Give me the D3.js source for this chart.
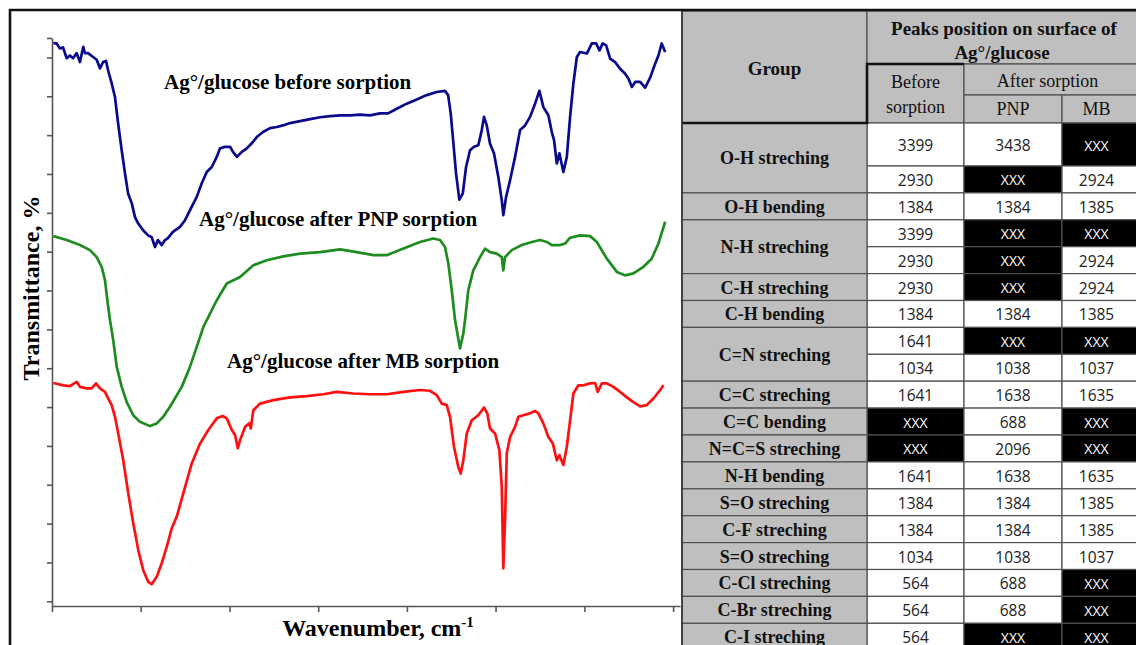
<!DOCTYPE html>
<html>
<head>
<meta charset="utf-8">
<script src="https://cdn.jsdelivr.net/npm/d3@7"></script>
<style>
  body { margin: 0; background: #fff; }
  svg { display: block; }
</style>
</head>
<body>
<svg id="fig" width="1136" height="645"></svg>
<script>
// spectra (wavenumber cm-1, transmittance in tick units)
const beforeWn = [3992,3973,3954,3936,3915,3896,3878,3857,3838,3819,3809,3791,3762,3741,3722,3704,3687,3675,3654,3635,3617,3596,3577,3559,3538,3519,3501,3472,3443,3422,3403,3386,3364,3345,3328,3299,3258,3229,3200,3161,3132,3103,3074,3045,3026,2997,2968,2951,2928,2900,2871,2842,2813,2777,2736,2697,2661,2620,2562,2504,2446,2388,2330,2272,2214,2157,2099,2052,2002,1944,1886,1828,1770,1722,1704,1689,1675,1658,1639,1619,1600,1577,1554,1529,1509,1496,1480,1461,1438,1413,1393,1384,1368,1345,1316,1287,1258,1229,1200,1175,1152,1123,1103,1090,1074,1059,1036,1016,997,978,958,939,900,871,846,827,808,788,765,736,707,678,659,639,620,591,562,533,504,485,466,446];
const beforeT = [143.7,143.6,142.3,142.6,139.8,140.5,139.8,141.1,138.8,142.7,141.1,141.1,140.1,139.4,137.2,138.8,139.1,136.7,133.3,129.8,123.1,116.1,110.2,105.0,102.5,98.9,97.3,95.5,94.2,93.7,91.2,93.0,91.7,93.0,93.5,95.1,96.4,98.1,100.7,104.1,107.6,110.5,111.8,114.4,116.6,117.0,117.0,115.7,114.4,115.7,116.6,117.9,119.5,120.8,121.8,122.1,122.5,123.1,123.6,124.1,124.6,124.9,125.1,125.1,125.3,125.1,125.6,125.6,126.8,128.1,129.2,130.3,131.1,131.4,130.3,125.6,118.7,110.1,103.4,105.0,111.8,116.1,117.0,117.4,121.3,124.7,122.5,117.8,115.3,109.2,103.2,99.4,104.1,108.4,114.4,121.3,122.5,124.7,128.1,131.4,127.2,125.1,120.8,118.7,112.7,115.3,110.5,114.4,124.7,133.3,140.1,141.4,141.0,143.6,143.6,141.8,143.6,143.1,139.7,138.8,137.1,135.8,134.6,132.4,133.7,133.7,132.2,134.8,138.4,140.5,143.6,141.4];

const pnpWn = [3992,3915,3838,3780,3741,3712,3693,3679,3664,3645,3625,3596,3567,3529,3490,3432,3393,3355,3316,3248,3200,3161,3123,3045,2987,2910,2833,2755,2659,2562,2446,2330,2234,2137,2060,1963,1867,1790,1751,1722,1703,1683,1664,1635,1616,1606,1587,1558,1519,1490,1461,1422,1393,1384,1374,1335,1277,1219,1171,1132,1103,1055,1026,997,939,881,842,784,726,678,630,572,524,485,446];
const pnpT = [94.0,93.0,91.7,90.4,88.6,86.1,82.7,77.5,72.4,67.2,60.4,55.2,51.3,47.9,46.2,45.1,45.8,47.5,50.1,55.2,60.4,65.5,70.6,77.5,81.8,83.5,86.5,87.8,88.8,89.5,89.9,90.6,89.9,89.1,89.1,90.8,92.5,93.4,93.0,91.2,87.0,80.1,72.4,65.1,68.9,72.4,80.1,85.2,88.6,90.8,89.9,89.5,88.6,85.2,88.6,90.4,91.7,92.5,93.0,92.5,91.7,91.7,92.1,93.6,94.2,94.0,92.5,88.2,84.8,83.9,84.4,86.1,88.2,92.1,97.7];

const mbWn = [3992,3934,3896,3857,3838,3799,3770,3745,3722,3693,3674,3654,3635,3616,3587,3558,3529,3500,3471,3442,3422,3393,3364,3335,3306,3277,3239,3190,3142,3094,3045,3010,2987,2958,2939,2923,2910,2881,2856,2848,2833,2794,2717,2620,2524,2427,2350,2253,2157,2060,1963,1867,1809,1770,1741,1712,1693,1670,1645,1631,1616,1596,1567,1529,1496,1477,1461,1432,1407,1393,1384,1374,1364,1345,1316,1297,1268,1229,1200,1181,1152,1123,1097,1074,1059,1036,1016,997,978,949,920,881,852,837,813,784,746,707,668,630,591,553,514,475,456];
const mbT = [56.2,55.6,55.4,56.5,55.2,54.8,54.8,56.1,54.8,53.9,52.2,50.5,47.5,43.2,36.3,27.8,20.1,13.2,8.0,5.0,4.4,6.3,9.8,14.0,18.8,21.8,27.8,35.5,40.6,44.1,47.1,47.7,47.1,44.1,42.8,39.4,41.5,44.9,45.8,44.5,49.2,50.9,51.8,52.5,52.8,53.3,53.9,53.5,53.3,53.3,53.9,54.4,54.2,53.1,50.9,50.5,47.5,39.8,34.6,32.9,36.3,43.2,46.6,47.9,49.9,48.4,44.5,43.2,38.9,29.5,8.5,20.9,38.1,42.3,44.9,47.5,47.9,48.4,49.0,48.4,45.8,42.3,40.6,36.3,37.6,35.1,39.8,46.6,53.5,55.6,55.6,56.1,56.2,53.9,56.1,56.1,55.2,53.9,52.5,51.3,50.2,50.5,52.2,54.4,55.6];

const xTicks = [4000, 3486, 2971, 2457, 1943, 1429, 914, 400];
const yTicks = [0,10,20,30,40,50,60,70,80,90,100,110,120,130,140,145];

// table
const groups = ["O-H streching","O-H bending","N-H streching","C-H streching","C-H bending","C=N streching","C=C streching","C=C bending","N=C=S streching","N-H bending","S=O streching","C-F streching","S=O streching","C-Cl streching","C-Br streching","C-I streching"];
const groupRows = [2,1,2,1,1,2,1,1,1,1,1,1,1,1,1,1];
const colBefore = [3399,2930,1384,3399,2930,2930,1384,1641,1034,1641,null,null,1641,1384,1384,1034,564,564,564];
const colPNP = [3438,null,1384,null,null,null,1384,null,1038,1638,688,2096,1638,1384,1384,1038,688,688,null];
const colMB = [null,2924,1385,null,2924,2924,1385,null,1037,1635,null,null,1635,1385,1385,1037,null,null,null];

const svg = d3.select("#fig");
const serif = "'Liberation Serif', 'Times New Roman', serif";
const sans = "'Open Sans', 'Liberation Sans', sans-serif";

// ---------- chart ----------
const x = d3.scaleLinear().domain([4000, 360]).range([52, 680]);
const y = d3.scaleLinear().domain([-1.2, 145]).range([606, 38]);

svg.append("g")
  .attr("transform", "translate(0,606)")
  .call(d3.axisBottom(x).tickValues(xTicks).tickSize(6).tickSizeOuter(0).tickFormat(""))
  .call(g => g.selectAll("path, line").attr("stroke", "#555").attr("stroke-width", 1.6));

svg.append("g")
  .attr("transform", "translate(52,0)")
  .call(d3.axisLeft(y).tickValues(yTicks).tickSize(5).tickSizeOuter(0).tickFormat(""))
  .call(g => g.selectAll("path, line").attr("stroke", "#555").attr("stroke-width", 1.6));

const line = d3.line()
  .x(d => x(d[0]))
  .y(d => y(d[1]));

const spectra = [
  {wn: beforeWn, t: beforeT, color: "#0a0a8c"},
  {wn: pnpWn, t: pnpT, color: "#1e8c1e"},
  {wn: mbWn, t: mbT, color: "#ff1010"}
];

svg.append("g").selectAll("path")
  .data(spectra)
  .enter().append("path")
  .attr("d", d => line(d3.zip(d.wn, d.t)))
  .attr("fill", "none")
  .attr("stroke", d => d.color)
  .attr("stroke-width", 2.7)
  .attr("stroke-linejoin", "round");

const labels = [
  {text: "Ag°/glucose before sorption", x: 164, y: 89},
  {text: "Ag°/glucose after PNP sorption", x: 199, y: 226},
  {text: "Ag°/glucose after MB sorption", x: 227, y: 368}
];
svg.append("g").selectAll("text")
  .data(labels)
  .enter().append("text")
  .attr("x", d => d.x)
  .attr("y", d => d.y)
  .attr("font-family", serif)
  .attr("font-weight", "bold")
  .attr("font-size", 21)
  .text(d => d.text);

const xl = svg.append("text")
  .attr("x", 378).attr("y", 636)
  .attr("text-anchor", "middle")
  .attr("font-family", serif).attr("font-weight", "bold").attr("font-size", 24);
xl.append("tspan").text("Wavenumber, cm");
xl.append("tspan").attr("dy", -9).attr("font-size", 15).text("-1");

svg.append("text")
  .attr("transform", "translate(39,288) rotate(-90)")
  .attr("text-anchor", "middle")
  .attr("font-family", serif).attr("font-weight", "bold").attr("font-size", 24)
  .text("Transmittance, %");

// ---------- table ----------
const colX = [682, 867, 964, 1062, 1137];
const gray = "#bfbfbf";
const grid = "#505050";
const sub = d3.scaleLinear().domain([1, 19]).range([166, 650.2]);
const rowTop = i => i === 0 ? 123 : sub(i);

const tbl = svg.append("g");

function cell(x0, y0, x1, y1, fill) {
  tbl.append("rect")
    .attr("x", x0).attr("y", y0)
    .attr("width", x1 - x0).attr("height", y1 - y0)
    .attr("fill", fill)
    .attr("stroke", grid).attr("stroke-width", 1.2);
}
function label(txt, cx, cy, opts) {
  tbl.append("text")
    .attr("x", cx).attr("y", cy)
    .attr("text-anchor", "middle")
    .attr("dominant-baseline", "central")
    .attr("font-family", opts.font)
    .attr("font-weight", opts.bold ? "bold" : "normal")
    .attr("font-size", opts.size)
    .attr("fill", opts.color || "#111")
    .text(txt);
}

// header
cell(colX[0], 11, colX[1], 123, gray);
cell(colX[1], 11, colX[4], 64, gray);
cell(colX[1], 64, colX[2], 123, gray);
cell(colX[2], 64, colX[4], 95, gray);
cell(colX[2], 95, colX[3], 123, gray);
cell(colX[3], 95, colX[4], 123, gray);
const hb = {font: serif, bold: true, size: 18};
const hh = {font: serif, bold: true, size: 19};
const hn = {font: serif, bold: false, size: 18};
label("Group", (colX[0] + colX[1]) / 2, 68, hh);
label("Peaks position on surface of", (colX[1] + colX[4]) / 2 + 2, 28, hh);
label("Ag°/glucose", (colX[1] + colX[4]) / 2, 52, hh);
label("Before", (colX[1] + colX[2]) / 2, 82, hn);
label("sorption", (colX[1] + colX[2]) / 2, 107, hn);
label("After sorption", (colX[2] + colX[4]) / 2 - 3, 81, hn);
label("PNP", (colX[2] + colX[3]) / 2, 109, hn);
label("MB", (colX[3] + colX[4]) / 2 - 3, 109, hn);

// body
const cols = [colBefore, colPNP, colMB];
cols.forEach((col, c) => {
  col.forEach((v, i) => {
    const y0 = rowTop(i), y1 = rowTop(i + 1);
    const black = v === null;
    cell(colX[c + 1], y0, colX[c + 2], y1, black ? "#000" : "#fff");
    const cx = (colX[c + 1] + colX[c + 2]) / 2 - (c === 2 ? 3 : 0);
    label(black ? "XXX" : v, cx, (y0 + y1) / 2 + 0.5,
      {font: sans, size: black ? 14 : 15.5, color: black ? "#fff" : "#222"});
  });
});

let start = 0;
groups.forEach((g, k) => {
  const y0 = rowTop(start), y1 = rowTop(start + groupRows[k]);
  cell(colX[0], y0, colX[1], y1, gray);
  label(g, (colX[0] + colX[1]) / 2, (y0 + y1) / 2 + 0.5, hb);
  start += groupRows[k];
});

// heavier rules in the header
tbl.append("path")
  .attr("d", `M${colX[0]},123H${colX[1]}V64H${colX[2]}`)
  .attr("fill", "none").attr("stroke", "#111").attr("stroke-width", 2.6);
tbl.append("line")
  .attr("x1", colX[0]).attr("x2", colX[0]).attr("y1", 11).attr("y2", 645)
  .attr("stroke", "#333").attr("stroke-width", 1.6);

// frame
svg.append("path")
  .attr("d", "M10,645V10H1136")
  .attr("fill", "none").attr("stroke", "#111").attr("stroke-width", 2.6);
</script>
</body>
</html>
